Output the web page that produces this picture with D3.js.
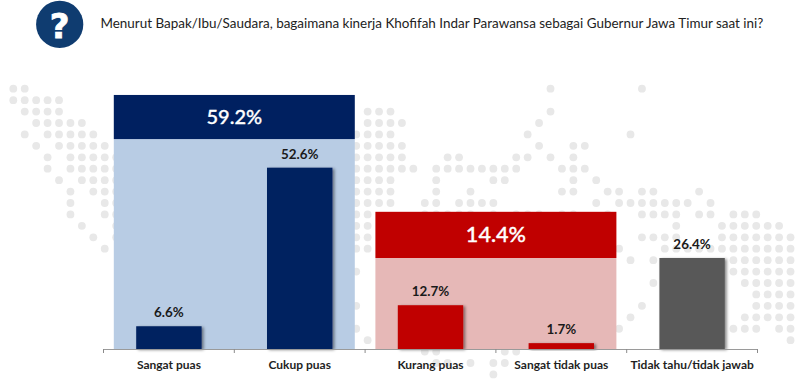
<!DOCTYPE html>
<html>
<head>
<meta charset="utf-8">
<script src="https://cdn.jsdelivr.net/npm/d3@7/dist/d3.min.js"></script>
<style>
html,body{margin:0;padding:0;background:#fff;overflow:hidden}
text{font-family:Lato,"Open Sans",sans-serif}
</style>
</head>
<body>
<svg id="c" width="800" height="390"></svg>
<script>
const question = "Menurut Bapak/Ibu/Saudara, bagaimana kinerja Khofifah Indar Parawansa sebagai Gubernur Jawa Timur saat ini?";
const categories = ["Sangat puas","Cukup puas","Kurang puas","Sangat tidak puas","Tidak tahu/tidak jawab"];
const values = [6.6,52.6,12.7,1.7,26.4];
const barColors = ["#002060","#002060","#c00000","#c00000","#595959"];
const groupLabels = ["59.2%","14.4%"];
const groupFrom = [0,2];
const groupTo = [1,3];
const groupDark = ["#002060","#c00000"];
const groupLight = ["#b8cce4","#e6b8b7"];
// background dot map: column ranges per grid row
const dotRows = [
 "0-1,47,55","0-4","1-4,31-33,47","2-6,31-34,46","1,3-7,30-33,45,54",
 "2,4-8,30-34,46,49-50","3,5-9,30-34,38-39,44-45,47,49","3,5-9,30-35,37-44,48-50",
 "4,6-9,30-33,37,42-43,49,51","5,7-9,30-33,37,40,48-49,52-53,55-56,60",
 "5,8-9,30-33,36-37,39-42,51,53-59,61","5,8-9,30-31,36-40,42,44-46,48-49,52,55-58,60-61,63-65",
 "6,9,30-31,58,62-67","7,9,30-31,55-58,62-68","8,30-31,53,57-68","54,56,63-68",
 "30,63-68","56,64-68","65-68","30,55,65-68","54,64-68","30,53,63-65,67-68","31,68",
 "36-37,43-44","37-38,40,42-43","42"
];

const svg = d3.select("#c");
const defs = svg.append("defs");
const f = defs.append("filter").attr("id","sh").attr("x","-20%").attr("y","-20%").attr("width","140%").attr("height","140%");
f.append("feDropShadow").attr("dx",2).attr("dy",1).attr("stdDeviation",1.4).attr("flood-color","#000").attr("flood-opacity",0.45);

const colX = d3.scaleLinear().domain([0,1]).range([13.3,24.73]);
const rowY = d3.scaleLinear().domain([0,1]).range([88.7,100.13]);
const dots = dotRows.flatMap((s,r)=>s.split(",").flatMap(p=>{
  const [a,b] = p.split("-").map(Number);
  return d3.range(a,(b===undefined?a:b)+1).map(c=>({c,r}));
}));
svg.append("g").selectAll("circle").data(dots).join("circle")
  .attr("cx",d=>colX(d.c)).attr("cy",d=>rowY(d.r)).attr("r",3.9).attr("fill","#e8e8e8");

const x = d3.scaleBand().domain(categories).range([103.5,757.5]).padding(0).paddingInner(0);
const barW = x.step()/2;
const y = d3.scaleLinear().domain([0,100]).range([349,4.3]);
const panelTop = [60.9,26.4], headTop = [73.7,39.8], headSize = [20,21.6];

const groups = groupLabels.map((label,i)=>({label,i,
  x0:x(categories[groupFrom[i]])+10.3,
  x1:x(categories[groupTo[i]])+x.step()-10.3}));
const gg = svg.append("g").selectAll("g").data(groups).join("g");
gg.append("rect").attr("x",d=>d.x0).attr("width",d=>d.x1-d.x0)
  .attr("y",d=>y(panelTop[d.i])).attr("height",d=>y(0)-y(panelTop[d.i])).attr("fill",d=>groupLight[d.i]);
gg.append("rect").attr("x",d=>d.x0).attr("width",d=>d.x1-d.x0)
  .attr("y",d=>y(headTop[d.i])).attr("height",d=>y(panelTop[d.i])-y(headTop[d.i])).attr("fill",d=>groupDark[d.i]);
gg.append("text").attr("x",d=>(d.x0+d.x1)/2).attr("y",d=>(y(headTop[d.i])+y(panelTop[d.i]))/2+7.4)
  .attr("text-anchor","middle").attr("font-size",d=>headSize[d.i]).attr("font-weight",500)
  .attr("stroke","#fff").attr("stroke-width",0.35).attr("fill","#fff").text(d=>d.label);

const rows = categories.map((c,i)=>({c,v:values[i],col:barColors[i]}));
svg.append("g").selectAll("rect").data(rows).join("rect")
  .attr("x",d=>x(d.c)+barW/2).attr("width",barW)
  .attr("y",d=>y(d.v)).attr("height",d=>y(0)-y(d.v))
  .attr("fill",d=>d.col).attr("filter","url(#sh)");
svg.append("g").selectAll("text").data(rows).join("text")
  .attr("x",d=>x(d.c)+x.bandwidth()/2).attr("y",d=>y(d.v)-9)
  .attr("text-anchor","middle").attr("font-size",13.4).attr("font-weight",700).attr("fill","#1a1a1a")
  .text(d=>d.v.toFixed(1)+"%");

const axis = svg.append("g").attr("transform",`translate(0,${y(0)})`)
  .call(d3.axisBottom(x).tickSize(0).tickPadding(11));
axis.select(".domain").attr("stroke","#9a9a9a").attr("stroke-width",1);
axis.selectAll("text").attr("font-family","Lato").attr("font-size",12).attr("font-weight",700).attr("fill","#1f1f1f");
axis.selectAll("line.edge").data(d3.range(categories.length+1)).join("line").attr("class","edge")
  .attr("x1",i=>x.range()[0]+i*x.step()).attr("x2",i=>x.range()[0]+i*x.step())
  .attr("y1",0).attr("y2",4).attr("stroke","#8a8a8a").attr("stroke-width",1);

svg.append("circle").attr("cx",59.7).attr("cy",24.4).attr("r",23.6).attr("fill","#0f3c70");
svg.append("text").attr("x",59.5).attr("y",37.5).attr("text-anchor","middle")
  .style("font-family","'DejaVu Sans'").attr("font-size",34).attr("font-weight",700)
  .attr("stroke","#fff").attr("stroke-width",0.8).attr("fill","#fff").text("?");
svg.append("text").attr("x",100.5).attr("y",28).attr("font-size",13.45).attr("fill","#222").text(question);
</script>
</body>
</html>
